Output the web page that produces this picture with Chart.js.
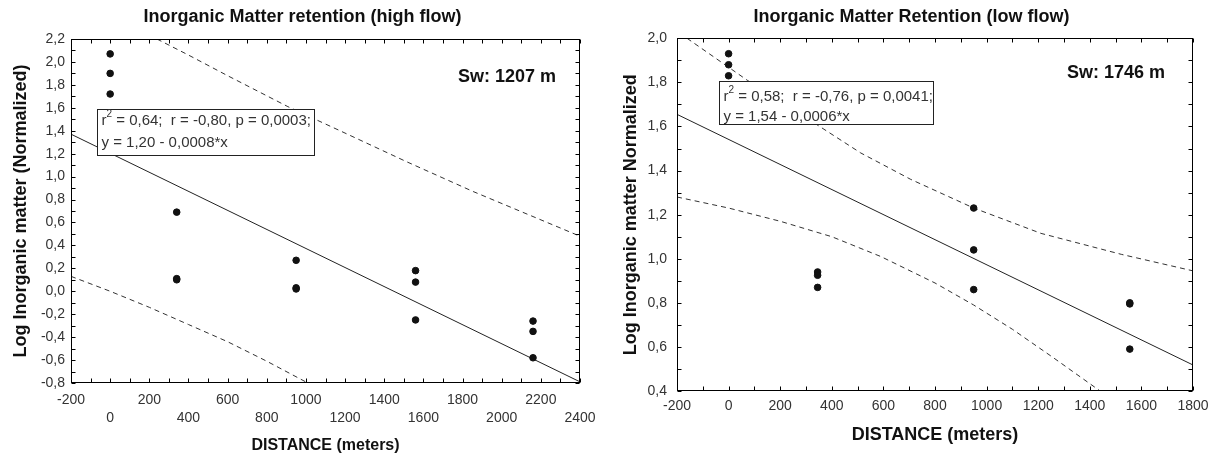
<!DOCTYPE html>
<html>
<head>
<meta charset="utf-8">
<title>Inorganic Matter retention</title>
<script src="https://cdn.jsdelivr.net/npm/chart.js@4.4.1/dist/chart.umd.min.js"></script>
<style>
  html, body { margin: 0; padding: 0; background: #fff; }
  .wrap { position: relative; width: 1218px; height: 457px; }
  .panel { position: absolute; top: 0; height: 457px; }
  #leftPanel { left: 0; width: 605px; }
  #rightPanel { left: 605px; width: 613px; }
</style>
</head>
<body>
<div class="wrap">
  <div class="panel" id="leftPanel"><canvas id="highFlowChart"></canvas></div>
  <div class="panel" id="rightPanel"><canvas id="lowFlowChart"></canvas></div>
</div>
<script>
// High flow: distance (m) vs log inorganic matter
const highDist = [0, 0, 0, 340, 340, 340, 950, 950, 950, 1560, 1560, 1560, 2160, 2160, 2160];
const highLog = [2.07, 1.90, 1.72, 0.69, 0.11, 0.10, 0.27, 0.03, 0.02, 0.18, 0.08, -0.25, -0.26, -0.35, -0.58];
const highFitX = [-200, 2400];
const highFitY = [1.37, -0.79];
const highUpperX = [239, 400, 600, 908, 1174, 1514, 1854, 2092, 2400];
const highUpperY = [2.20, 2.06, 1.88, 1.61, 1.40, 1.13, 0.87, 0.70, 0.48];
const highLowerX = [-200, 0, 200, 400, 600, 800, 1010];
const highLowerY = [0.13, 0.00, -0.14, -0.29, -0.44, -0.61, -0.80];
const highXTicks = [-200, 0, 200, 400, 600, 800, 1000, 1200, 1400, 1600, 1800, 2000, 2200, 2400];
const highYTicks = [-0.8, -0.6, -0.4, -0.2, 0, 0.2, 0.4, 0.6, 0.8, 1.0, 1.2, 1.4, 1.6, 1.8, 2.0, 2.2];

// Low flow
const lowDist = [0, 0, 0, 345, 345, 345, 950, 950, 950, 1555, 1555, 1555];
const lowLog = [1.93, 1.88, 1.83, 0.94, 0.925, 0.87, 1.23, 1.04, 0.86, 0.80, 0.795, 0.59];
const lowFitX = [-200, 1800];
const lowFitY = [1.655, 0.518];
const lowUpperX = [-161, 72, 300, 512, 706, 950, 1211, 1522, 1800];
const lowUpperY = [2.00, 1.81, 1.64, 1.48, 1.36, 1.23, 1.115, 1.02, 0.945];
const lowLowerX = [-200, 0, 200, 400, 590, 800, 950, 1100, 1260, 1440];
const lowLowerY = [1.28, 1.23, 1.17, 1.10, 1.01, 0.89, 0.79, 0.68, 0.55, 0.40];
const lowXTicks = [-200, 0, 200, 400, 600, 800, 1000, 1200, 1400, 1600, 1800];
const lowYTicks = [0.4, 0.6, 0.8, 1.0, 1.2, 1.4, 1.6, 1.8, 2.0];

const FONT = '"Liberation Sans", Arial, sans-serif';

function pts(xs, ys) {
  return xs.map((x, i) => ({ x: x, y: ys[i] }));
}

function comma(v) {
  if (Math.abs(v) < 1e-9) v = 0;
  return v.toFixed(1).replace('.', ',');
}

// frame, inward ticks, Sw label and regression box
const framePlugin = {
  id: 'frame',
  afterDraw(chart, args, opts) {
    const { ctx, chartArea: a } = chart;
    const xs = chart.scales.x;
    const ys = chart.scales.y;
    const L = Math.round(a.left) + 0.5;
    const R = Math.round(a.right) - 0.5;
    const T = Math.round(a.top) + 0.5;
    const B = Math.round(a.bottom) - 0.5;

    ctx.save();
    ctx.strokeStyle = '#000';
    ctx.lineWidth = 1;
    ctx.beginPath();
    const nx = Math.round((xs.max - xs.min) / opts.xMinor);
    for (let i = 0; i <= nx; i++) {
      const p = Math.round(xs.getPixelForValue(xs.min + i * opts.xMinor)) + 0.5;
      ctx.moveTo(p, B); ctx.lineTo(p, B - 4);
      ctx.moveTo(p, T); ctx.lineTo(p, T + 4);
    }
    const ny = Math.round((ys.max - ys.min) / opts.yMinor);
    for (let i = 0; i <= ny; i++) {
      const p = Math.round(ys.getPixelForValue(ys.min + i * opts.yMinor)) + 0.5;
      ctx.moveTo(L, p); ctx.lineTo(L + 4, p);
      ctx.moveTo(R, p); ctx.lineTo(R - 4, p);
    }
    ctx.stroke();
    ctx.strokeRect(L, T, R - L, B - T);

    // Sw label
    ctx.fillStyle = '#111';
    ctx.font = 'bold 18px ' + FONT;
    ctx.textBaseline = 'middle';
    ctx.textAlign = 'left';
    ctx.fillText(opts.sw, a.left + opts.swX, a.top + opts.swY);

    // regression box
    const b = opts.box;
    const bx = Math.round(a.left + b.x) + 0.5;
    const by = Math.round(a.top + b.y) + 0.5;
    ctx.fillStyle = '#fff';
    ctx.fillRect(bx, by, b.w, b.h);
    ctx.strokeStyle = '#222';
    ctx.strokeRect(bx, by, b.w, b.h);
    ctx.fillStyle = '#333';
    ctx.font = '15px ' + FONT;
    let tx = bx + 4;
    ctx.fillText('r', tx, by + b.l1);
    tx += ctx.measureText('r').width;
    ctx.font = '10px ' + FONT;
    ctx.fillText('2', tx, by + b.l1 - 6);
    tx += ctx.measureText('2').width;
    ctx.font = '15px ' + FONT;
    ctx.fillText(opts.stats[0], tx, by + b.l1);
    ctx.fillText(opts.stats[1], bx + 4, by + b.l2);
    ctx.restore();
  }
};

function makeChart(el, s) {
  return new Chart(el, {
    type: 'scatter',
    data: {
      datasets: [{
        data: pts(s.dist, s.log),
        pointRadius: 3.3,
        pointBackgroundColor: '#111',
        pointBorderColor: '#111',
        showLine: false
      }, {
        data: pts(s.fitX, s.fitY),
        showLine: true,
        borderColor: '#222',
        borderWidth: 1,
        pointRadius: 0
      }, {
        data: pts(s.upX, s.upY),
        showLine: true,
        borderColor: '#333',
        borderWidth: 1,
        borderDash: [5, 4],
        pointRadius: 0
      }, {
        data: pts(s.loX, s.loY),
        showLine: true,
        borderColor: '#333',
        borderWidth: 1,
        borderDash: [5, 4],
        pointRadius: 0
      }]
    },
    options: {
      responsive: true,
      maintainAspectRatio: false,
      animation: false,
      events: [],
      layout: { padding: 0 },
      plugins: {
        legend: { display: false },
        tooltip: { enabled: false },
        title: {
          display: true,
          text: s.title,
          color: '#111',
          font: { family: FONT, size: 18, weight: 'bold', lineHeight: 1.2 },
          padding: { top: 5.9, bottom: s.titleGap }
        },
        frame: s.frame
      },
      scales: {
        x: {
          type: 'linear',
          min: s.xTicks[0],
          max: s.xTicks[s.xTicks.length - 1],
          grid: { display: false, drawTicks: false },
          border: { display: false },
          afterBuildTicks: (sc) => { sc.ticks = s.xTicks.map(v => ({ value: v })); },
          afterFit: (sc) => { sc.height = s.xHeight; },
          ticks: {
            autoSkip: false,
            maxRotation: 0,
            minRotation: 0,
            padding: s.xPad,
            color: '#333',
            font: { family: FONT, size: 14, lineHeight: 1.3 },
            callback: s.xLabel
          },
          title: {
            display: true,
            text: 'DISTANCE (meters)',
            color: '#111',
            font: { family: FONT, size: s.xTitleSize, weight: 'bold', lineHeight: 1.2 },
            padding: { top: 0, bottom: s.xTitlePad }
          }
        },
        y: {
          type: 'linear',
          min: s.yTicks[0],
          max: s.yTicks[s.yTicks.length - 1],
          grid: { display: false, drawTicks: false },
          border: { display: false },
          afterBuildTicks: (sc) => { sc.ticks = s.yTicks.map(v => ({ value: v })); },
          afterFit: (sc) => { sc.width = s.yWidth; },
          ticks: {
            autoSkip: false,
            padding: s.yPad,
            color: '#333',
            font: { family: FONT, size: 14 },
            callback: (v) => comma(v)
          },
          title: {
            display: true,
            text: s.yTitle,
            color: '#111',
            font: { family: FONT, size: 18, weight: 'bold', lineHeight: 1.2 },
            padding: { top: s.yTitlePad, bottom: 0 }
          }
        },
        // empty right margin so the title stays centred on the panel
        gap: {
          type: 'linear',
          position: 'right',
          display: true,
          grid: { display: false, drawTicks: false },
          border: { display: false },
          ticks: { display: false },
          afterFit: (sc) => { sc.width = s.padRight; }
        }
      }
    },
    plugins: [framePlugin]
  });
}

document.addEventListener('DOMContentLoaded', function() {
  makeChart(document.getElementById('highFlowChart'), {
    title: 'Inorganic Matter retention (high flow)',
    yTitle: 'Log Inorganic matter (Normalized)',
    dist: highDist, log: highLog,
    fitX: highFitX, fitY: highFitY,
    upX: highUpperX, upY: highUpperY,
    loX: highLowerX, loY: highLowerY,
    xTicks: highXTicks, yTicks: highYTicks,
    // labels alternate between two rows
    xLabel: (v, i) => (i % 2 === 0 ? String(v) : ['', String(v)]),
    padRight: 25, titleGap: 11.5,
    xHeight: 74, xPad: 7.9, xTitleSize: 16, xTitlePad: 1.4,
    yWidth: 71, yPad: 6, yTitlePad: 10.2,
    frame: {
      xMinor: 100, yMinor: 0.1,
      sw: 'Sw: 1207 m', swX: 387, swY: 37.7,
      box: { x: 26.3, y: 70.3, w: 217, h: 46, l1: 11, l2: 33 },
      stats: [' = 0,64;  r = -0,80, p = 0,0003;', 'y = 1,20 - 0,0008*x']
    }
  });

  makeChart(document.getElementById('lowFlowChart'), {
    title: 'Inorganic Matter Retention (low flow)',
    yTitle: 'Log Inorganic matter Normalized',
    dist: lowDist, log: lowLog,
    fitX: lowFitX, fitY: lowFitY,
    upX: lowUpperX, upY: lowUpperY,
    loX: lowLowerX, loY: lowLowerY,
    xTicks: lowXTicks, yTicks: lowYTicks,
    xLabel: (v) => String(v),
    padRight: 25, titleGap: 10.8,
    xHeight: 66, xPad: 5.8, xTitleSize: 18, xTitlePad: 11.2,
    yWidth: 72, yPad: 10, yTitlePad: 15.5,
    frame: {
      xMinor: 100, yMinor: 0.1,
      sw: 'Sw: 1746 m', swX: 390, swY: 34.4,
      box: { x: 42, y: 43, w: 214, h: 43, l1: 15, l2: 35 },
      stats: [' = 0,58;  r = -0,76, p = 0,0041;', 'y = 1,54 - 0,0006*x']
    }
  });
});
</script>
</body>
</html>
